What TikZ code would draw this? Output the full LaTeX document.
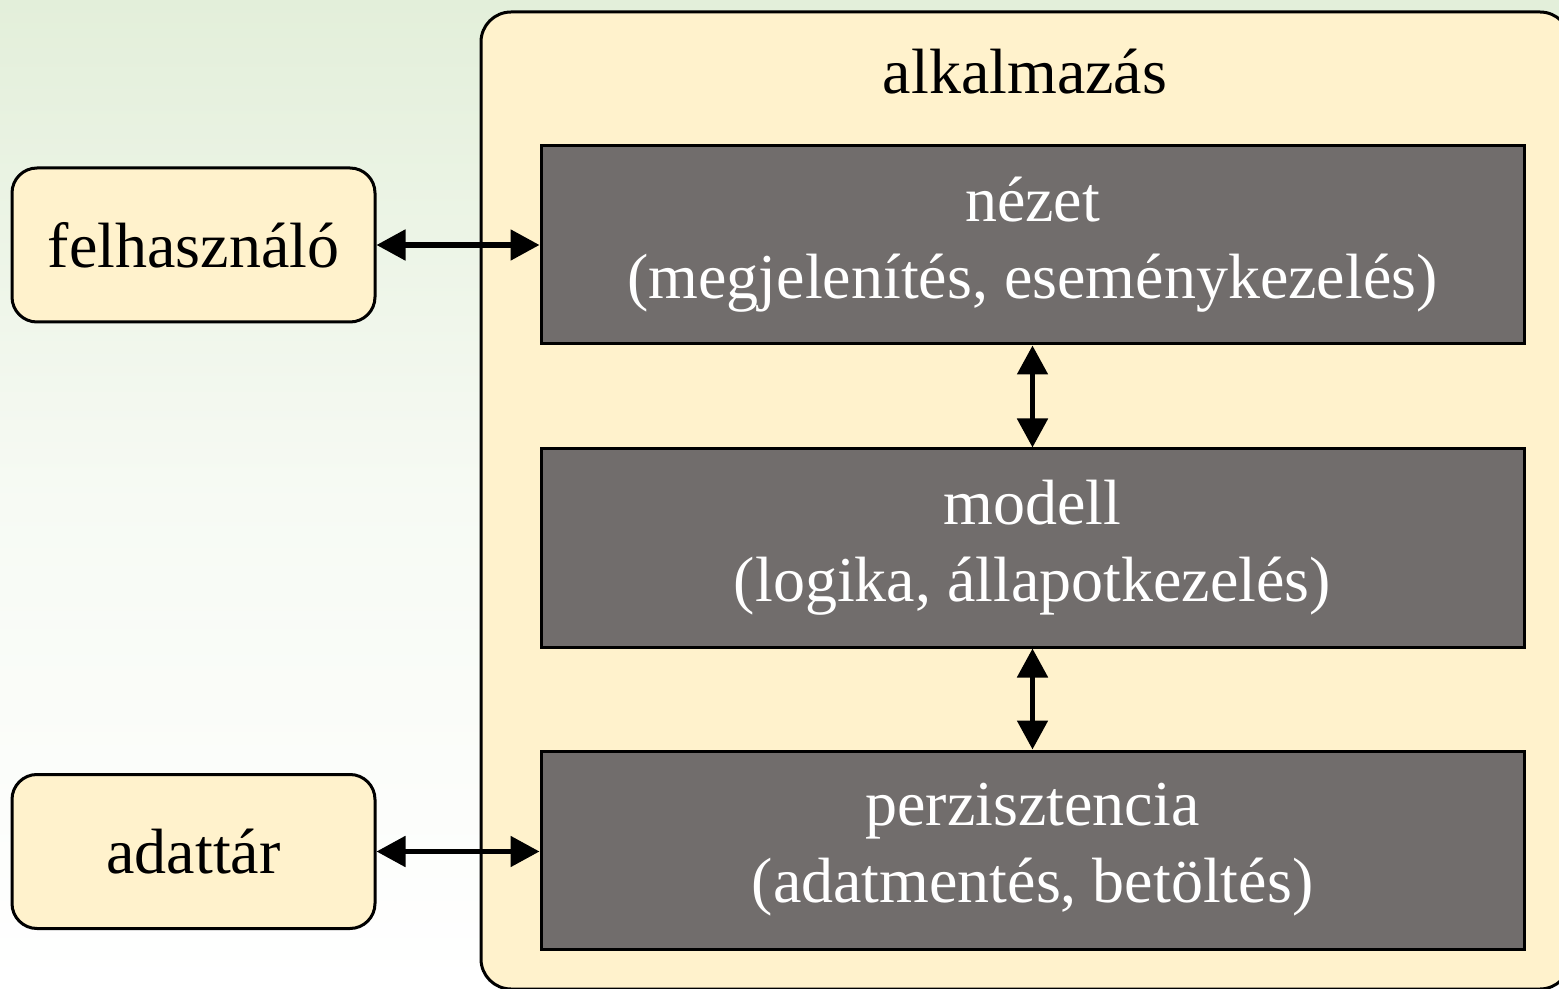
\documentclass[tikz,border=0pt]{standalone}
\usepackage{fontspec}
\setmainfont{Liberation Serif}
\usetikzlibrary{arrows.meta}
\definecolor{appyellow}{HTML}{FFF2CC}
\definecolor{layergray}{HTML}{716D6C}
\definecolor{bggreen}{HTML}{E3EFDA}
\begin{document}
\begin{tikzpicture}[x=0.5pt,y=-0.5pt,
  every node/.style={font=\fontsize{32}{38.4}\selectfont},
  sidebox/.style={draw, fill=appyellow, rounded corners=12.5pt, line width=1.5pt,
    minimum width=181.5pt, minimum height=77pt, inner sep=0pt},
  appbox/.style={draw, fill=appyellow, rounded corners=15pt, line width=1.5pt,
    minimum width=544.5pt, minimum height=488.5pt, inner sep=0pt},
  layer/.style={draw, fill=layergray, text=white, line width=1.5pt,
    minimum width=491.5pt, minimum height=99pt, inner sep=0pt, align=center},
  link/.style={arrows={Triangle[length=14.5pt,width=15pt]-Triangle[length=14.5pt,width=15pt]}, line width=2.6pt}
]
\useasboundingbox (0,0) rectangle (1559,989);
\clip (0,0) rectangle (1559,989);
\shade[top color=bggreen, bottom color=white, middle color=bggreen!30!white] (0,0) rectangle (1559,989);

\node[appbox] (app) at (1025.5,500.5) {};
\node[anchor=base] (applabel) at (1025,94) {alkalmazás};

\node[sidebox] (user) at (193.5,245) {felhasználó};
\node[sidebox] (store) at (193.5,851.5) {adattár};

\node[layer] (view) at (1032.5,245) {nézet\\(megjelenítés, eseménykezelés)};
\node[layer] (model) at (1032.5,548) {modell\\(logika, állapotkezelés)};
\node[layer] (persist) at (1032.5,850) {perzisztencia\\(adatmentés, betöltés)};

\draw[link] (user.east) -- (user.east -| view.west);
\draw[link] (store.east) -- (store.east -| persist.west);
\draw[link] (view.south) -- (model.north);
\draw[link] (model.south) -- (persist.north);
\end{tikzpicture}
\end{document}
